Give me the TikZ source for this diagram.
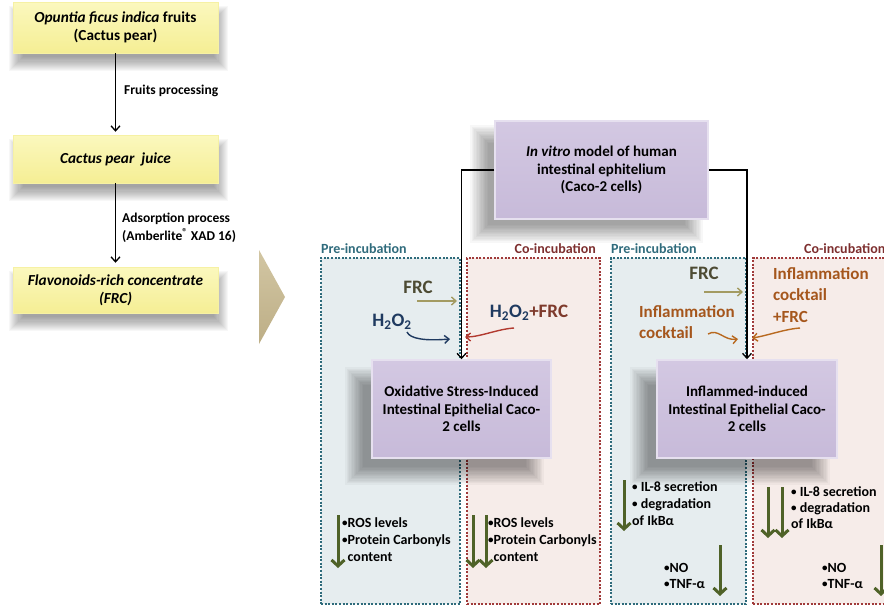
\documentclass[tikz,border=0pt]{standalone}
\usepackage{fontspec}
\setmainfont{Carlito}
\usetikzlibrary{arrows.meta}
\pgfdeclarelayer{panels}
\pgfdeclarelayer{shad}
\pgfsetlayers{panels,shad,main}
\definecolor{ytop}{HTML}{FBF8BE}
\definecolor{ybot}{HTML}{F5EE94}
\definecolor{ptop}{HTML}{D3C8E2}
\definecolor{pbot}{HTML}{C7BAD9}
\definecolor{pedge}{HTML}{E6E0EF}
\definecolor{tealline}{HTML}{2E6B7B}
\definecolor{tealfill}{HTML}{E6EDEF}
\definecolor{redline}{HTML}{A03A3A}
\definecolor{redfill}{HTML}{F6ECE9}
\definecolor{chevtop}{HTML}{D2C6A3}
\definecolor{chevbot}{HTML}{BDAE86}
\definecolor{olivetxt}{HTML}{4D4B33}
\definecolor{olivearr}{HTML}{A39B62}
\definecolor{navytxt}{HTML}{1F3A60}
\definecolor{rustarr}{HTML}{B23A30}
\definecolor{frcred}{HTML}{7E3A2C}
\definecolor{cocktailtxt}{HTML}{A5561C}
\definecolor{cocktailarr}{HTML}{B8691F}
\definecolor{gdown}{HTML}{4F6228}
\definecolor{preblue}{HTML}{2F6B7C}
\definecolor{cored}{HTML}{7D2E2E}
\newcommand\fsz[2]{\fontsize{#1}{#2}\selectfont}
\newcommand\bul{{\fsz{11}{11}\raisebox{1pt}{•}}}
% soft shadow: node, dx, dy (canvas, pt), radius
\newcommand\softshadow[4]{%
  \begin{pgfonlayer}{shad}
  \foreach \k in {0,...,13}{%
    \pgfmathsetmacro\dd{-#4+\k*2*#4/13}%
    \pgfmathsetmacro\xa{#2+\dd}\pgfmathsetmacro\ya{#3-\dd}%
    \pgfmathsetmacro\xb{#2-\dd}\pgfmathsetmacro\yb{#3+\dd}%
    \fill[black, opacity=0.032] ([xshift=\xa pt, yshift=\ya pt]#1.north west) rectangle ([xshift=\xb pt, yshift=\yb pt]#1.south east);
  }%
  \end{pgfonlayer}}
\begin{document}
\begin{tikzpicture}[x=1pt,y=-1pt,
 ybox/.style={draw=ybot!85!white, line width=0.5pt, top color=ytop, bottom color=ybot,
   minimum width=205pt, inner sep=2pt, align=center, font=\bfseries\fsz{15.3}{18}},
 pbox/.style={draw=pedge, line width=1.5pt, top color=ptop, bottom color=pbot,
   inner sep=2pt, align=center, font=\bfseries\fsz{15}{17.5}},
 tealpanel/.style={draw=tealline, fill=tealfill, line width=2pt, dash pattern=on 2pt off 1.6pt, inner sep=0pt},
 redpanel/.style={draw=redline, fill=redfill, line width=2pt, dash pattern=on 2pt off 1.6pt, inner sep=0pt},
 lab/.style={font=\bfseries\fsz{13.5}{18}, align=left, inner sep=0pt},
 plabel/.style={font=\bfseries\fsz{14}{16}, inner sep=0pt},
 big/.style={font=\bfseries\fsz{19}{22}, inner sep=0pt},
 cock/.style={font=\bfseries\fsz{17}{21.5}, text=cocktailtxt, align=left, inner sep=0pt},
 bt/.style={font=\bfseries\fsz{14}{17}, align=left, inner sep=0pt},
 conn/.style={line width=1.3pt, -{Straight Barb[length=5pt,width=9pt]}},
 garr/.style={gdown, line width=3pt, -{Straight Barb[length=6pt,width=13pt]}},
 carr/.style={line width=1.4pt, -{Straight Barb[length=4.5pt,width=8pt]}},
]
\useasboundingbox (0,0) rectangle (884,605);

% left column
\node[ybox, minimum height=51pt] (f1) at (115.5,27.5) {\textit{Opuntia ficus indica} fruits\\(Cactus pear)};
\node[ybox, minimum height=48pt] (f2) at (115.5,159) {\textit{Cactus pear\ \ juice}};
\node[ybox, minimum height=46pt] (f3) at (115.5,290) {\textit{Flavonoids-rich concentrate}\\\textit{(FRC)}};
\softshadow{f1}{3}{-11}{7}
\softshadow{f2}{3}{-11}{7}
\softshadow{f3}{3}{-11}{7}
\draw[conn, shorten >=3pt] (f1) -- (f2);
\draw[conn, shorten >=4pt] (f2) -- (f3);
\node[lab, anchor=west] (lp1) at (124,91) {Fruits processing};
\node[lab, anchor=west] (lp2) at (122,228) {Adsorption process\\(Amberlite\textsuperscript{\fsz{10}{10}®} XAD 16)};

% chevron
\shade[top color=chevtop, bottom color=chevbot] (259,250) -- (285,297) -- (259,344) -- cycle;

% panels
\begin{pgfonlayer}{panels}
\node[tealpanel, anchor=north west, minimum width=139pt, minimum height=346pt] (p1) at (320,257) {};
\node[redpanel, anchor=north west, minimum width=133pt, minimum height=346pt] (p2) at (466,257) {};
\node[tealpanel, anchor=north west, minimum width=135pt, minimum height=346pt] (p3) at (610,257) {};
\node[redpanel, anchor=north west, minimum width=150pt, minimum height=346pt] (p4) at (752,257) {};
\end{pgfonlayer}

\node[plabel, text=preblue, anchor=base west] (t1) at (321,253) {Pre-incubation};
\node[plabel, text=cored, anchor=base east] (t2) at (596,253) {Co-incubation};
\node[plabel, text=preblue, anchor=base west] (t3) at (611,253) {Pre-incubation};
\node[plabel, text=cored, anchor=base west] (t4) at (804,253) {Co-incubation};

% main boxes
\node[pbox, minimum width=213pt, minimum height=98pt] (iv) at (601.5,170) {\textit{In vitro} model of human\\intestinal ephitelium\\(Caco-2 cells)};
\node[pbox, minimum width=179pt, minimum height=98pt] (ox) at (461.5,409) {Oxidative Stress-Induced\\Intestinal Epithelial Caco-\\2 cells};
\node[pbox, minimum width=180pt, minimum height=98pt] (inf) at (747,409) {Inflammed-induced\\Intestinal Epithelial Caco-\\2 cells};
\softshadow{iv}{-15}{-14}{9}
\softshadow{ox}{-17}{-17}{9}
\softshadow{inf}{-17}{-17}{9}

\draw[conn] (iv.west) -| (ox.north);
\draw[conn] (iv.east) -| (inf.north);

% panel 1 / 2 inputs
\node[big, text=olivetxt] (frc1) at (418,287) {FRC};
\coordinate (a1s) at (417,301); \coordinate (a1e) at (457,301);
\draw[carr, olivearr] (a1s) -- (a1e);
\node[big, text=navytxt] (h1) at (392,322) {H\textsubscript{2}O\textsubscript{2}};
\coordinate (a2s) at (407,332); \coordinate (a2e) at (450,339);
\draw[carr, navytxt] (a2s) .. controls (410,339) and (426,341) .. (a2e);
\node[big, text=navytxt] (h2) at (529,313) {H\textsubscript{2}O\textsubscript{2}\textcolor{frcred}{+FRC}};
\coordinate (a3s) at (514,328); \coordinate (a3e) at (465,337);
\draw[carr, rustarr] (a3s) .. controls (498,329) and (480,337) .. (a3e);

% panel 3 / 4 inputs
\node[big, text=olivetxt] (frc2) at (704,273) {FRC};
\coordinate (a4s) at (704,292); \coordinate (a4e) at (743,292);
\draw[carr, olivearr] (a4s) -- (a4e);
\node[cock, anchor=west] (ic1) at (639,322) {Inflammation\\cocktail};
\coordinate (a5s) at (708,334); \coordinate (a5e) at (738,339);
\draw[carr, cocktailarr] (a5s) .. controls (718,328) and (724,341) .. (a5e);
\node[cock, anchor=west] (ic2) at (773,295) {Inflammation\\cocktail\\+FRC};
\coordinate (a6s) at (800,328); \coordinate (a6e) at (752,338);
\draw[carr, cocktailarr] (a6s) .. controls (785,329) and (766,336) .. (a6e);

% results panel 1
\node[bt, anchor=west] (r1) at (342,540) {\bul ROS levels\\\bul Protein Carbonyls\\\phantom{\bul}content};
\coordinate (g1a) at (338,515); \coordinate (g1b) at (338,568);
\draw[garr] (g1a) -- (g1b);
% panel 2
\node[bt, anchor=west] (r2) at (488,540) {\bul ROS levels\\\bul Protein Carbonyls\\\phantom{\bul}content};
\coordinate (g2a) at (473,515); \coordinate (g2b) at (473,568);
\coordinate (g3a) at (486,515); \coordinate (g3b) at (486,568);
\draw[garr] (g2a) -- (g2b);
\draw[garr] (g3a) -- (g3b);
% panel 3
\node[bt, anchor=west] (r3) at (632,504) {\bul\ IL-8 secretion\\\bul\ degradation\\of IkBα};
\coordinate (g4a) at (624,480); \coordinate (g4b) at (624,531);
\draw[garr] (g4a) -- (g4b);
\node[bt, anchor=west, font=\bfseries\fsz{14}{16}] (n3) at (664,576) {\bul NO\\\bul TNF-α};
\coordinate (g5a) at (720,545); \coordinate (g5b) at (720,596);
\draw[garr] (g5a) -- (g5b);
% panel 4
\node[bt, anchor=west, font=\bfseries\fsz{14}{16}] (r4) at (791,508) {\bul\ IL-8 secretion\\\bul\ degradation\\of IkBα};
\coordinate (g6a) at (768,487); \coordinate (g6b) at (768,538);
\coordinate (g7a) at (782,487); \coordinate (g7b) at (782,538);
\draw[garr] (g6a) -- (g6b);
\draw[garr] (g7a) -- (g7b);
\node[bt, anchor=west, font=\bfseries\fsz{14}{16}] (n4) at (822,576) {\bul NO\\\bul TNF-α};
\coordinate (g8a) at (881,545); \coordinate (g8b) at (881,596);
\draw[garr] (g8a) -- (g8b);
\end{tikzpicture}
\end{document}
